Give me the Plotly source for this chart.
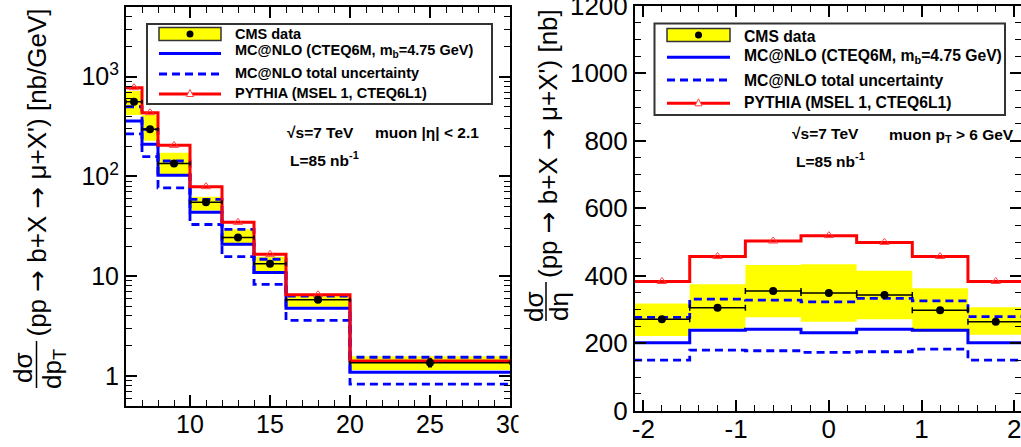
import math
import plotly.graph_objects as go

W, H = 1021, 447
FONT = "Liberation Sans, Arial, Helvetica, sans-serif"

# ---------------- left panel: d sigma / d pT ----------------
pt_edges = [6, 7, 8, 10, 12, 14, 16, 20, 30]
pt_x = [6.5, 7.5, 9, 11, 13, 15, 18, 25]
pt_xerr = [0.5, 0.5, 1, 1, 1, 1, 2, 5]
pt_data = [560, 297, 135, 55, 24.5, 13.3, 5.8, 1.36]
pt_stat = [12, 6, 3, 1.2, 0.7, 0.4, 0.25, 0.12]
pt_syst_hi = [720, 413, 173, 62.5, 29.5, 15.7, 6.5, 1.58]
pt_syst_lo = [413, 228, 106, 45.5, 20.3, 11.1, 4.95, 1.15]
pt_mcnlo = [360, 210, 103, 43.7, 20.9, 10.9, 4.77, 1.09]
pt_mcnlo_hi = [500, 297, 143, 59, 29.5, 14.8, 6.32, 1.54]
pt_mcnlo_lo = [267, 158, 77, 33, 15.7, 8.3, 3.61, 0.83]
pt_pythia = [776, 436, 205, 79, 34.7, 16.6, 6.53, 1.41]
pt_tickvals = [10, 15, 20, 25, 30]
pt_logticks = [1, 10, 100, 1000]
pt_logticktext = ["1", "10", "10<sup>2</sup>", "10<sup>3</sup>"]

# ---------------- right panel: d sigma / d eta ----------------
eta_edges = [-2.1, -1.5, -0.9, -0.3, 0.3, 0.9, 1.5, 2.1]
eta_x = [-1.8, -1.2, -0.6, 0.0, 0.6, 1.2, 1.8]
eta_xerr = [0.3] * 7
eta_data = [271, 305, 355, 349, 343, 298, 264]
eta_syst_hi = [318, 375, 432, 434, 415, 363, 307]
eta_syst_lo = [222, 244, 277, 264, 271, 234, 225]
eta_mcnlo = [202, 239, 242, 231, 242, 239, 202]
eta_mcnlo_hi = [277, 331, 328, 323, 333, 326, 279]
eta_mcnlo_lo = [150, 180, 178, 173, 175, 183, 150]
eta_pythia = [383, 457, 503, 519, 499, 457, 383]
eta_tickvals = [-2, -1, 0, 1, 2]
eta_ticktext = ["-2", "-1", "0", "1", "2"]

legend_labels = ["CMS data", "MC@NLO (CTEQ6M, m<sub>b</sub>=4.75 GeV)",
                 "MC@NLO total uncertainty", "PYTHIA (MSEL 1, CTEQ6L1)"]

YELLOW = "#ffff00"
BLUE = "#0000ff"
RED = "#ff0000"
ARROW = '<span style="font-family:DejaVu Sans">→</span>'


def px(x):
    return x / W


def py(y):
    return 1 - y / H


def band_xy(edges, lo, hi):
    xs, ys = [], []
    for i in range(len(lo)):
        x0, x1 = edges[i], edges[i + 1]
        xs += [x0, x1, x1, x0, x0, None]
        ys += [lo[i], lo[i], hi[i], hi[i], lo[i], None]
    return xs, ys


def step_y(vals):
    return list(vals) + [vals[-1]]


fig = go.Figure()


def add_panel(xa, ya, edges, xc, xerr, data, stat, shi, slo, mc, mchi, mclo, py_, capw):
    bx, by = band_xy(edges, slo, shi)
    fig.add_trace(go.Scatter(x=bx, y=by, mode="lines", fill="toself", fillcolor=YELLOW,
                             line=dict(width=0, color=YELLOW), xaxis=xa, yaxis=ya,
                             showlegend=False, hoverinfo="skip"))
    for vals in (mchi, mclo):
        fig.add_trace(go.Scatter(x=edges, y=step_y(vals), mode="lines", line_shape="hv",
                                 line=dict(color=BLUE, width=2.8, dash="8px,5px"),
                                 xaxis=xa, yaxis=ya, showlegend=False))
    fig.add_trace(go.Scatter(x=edges, y=step_y(mc), mode="lines", line_shape="hv",
                             line=dict(color=BLUE, width=3), xaxis=xa, yaxis=ya, showlegend=False))
    fig.add_trace(go.Scatter(x=edges, y=step_y(py_), mode="lines", line_shape="hv",
                             line=dict(color=RED, width=3), xaxis=xa, yaxis=ya, showlegend=False))
    fig.add_trace(go.Scatter(x=xc, y=py_, mode="markers",
                             marker=dict(symbol="triangle-up-open", size=8, color="#ff4040",
                                         line=dict(width=1, color="#ff4040")),
                             xaxis=xa, yaxis=ya, showlegend=False))
    fig.add_trace(go.Scatter(x=xc, y=data, mode="markers",
                             marker=dict(symbol="circle", size=8, color="black"),
                             error_x=dict(type="data", array=xerr, color="black", thickness=1.5, width=capw),
                             error_y=dict(type="data", array=stat, color="black", thickness=1.5, width=2),
                             xaxis=xa, yaxis=ya, showlegend=False))


add_panel("x", "y", pt_edges, pt_x, pt_xerr, pt_data, pt_stat, pt_syst_hi, pt_syst_lo,
          pt_mcnlo, pt_mcnlo_hi, pt_mcnlo_lo, pt_pythia, 2)
add_panel("x2", "y2", eta_edges, eta_x, eta_xerr, eta_data, [0] * 7, eta_syst_hi, eta_syst_lo,
          eta_mcnlo, eta_mcnlo_hi, eta_mcnlo_lo, eta_pythia, 3)

axis_common = dict(showgrid=False, zeroline=False, showline=True, linecolor="black", linewidth=2,
                   mirror="allticks", ticks="inside", ticklen=11, tickwidth=1.5, tickcolor="black",
                   ticklabeloverflow="allow", automargin=False)

log_minor = []
for dec in [0.1, 1, 10, 100, 1000]:
    for m in range(2, 10):
        v = m * dec
        if 0.5 <= v <= 5000:
            log_minor.append(v)

fig.update_layout(
    width=W, height=H, margin=dict(l=0, r=0, t=0, b=0, autoexpand=False),
    paper_bgcolor="white", plot_bgcolor="white",
    font=dict(family=FONT, color="black"),
    xaxis=dict(domain=[px(126), px(510)], anchor="y", range=[6, 30],
               tickmode="array", tickvals=pt_tickvals, ticklabelstandoff=-5,
               minor=dict(ticks="inside", ticklen=6, tickwidth=1.2, tickcolor="black", dtick=1, tick0=0),
               tickfont=dict(size=25, family=FONT), **axis_common),
    yaxis=dict(domain=[py(406), py(7)], anchor="x", type="log",
               range=[math.log10(0.5), math.log10(5000)],
               tickmode="array", tickvals=pt_logticks, ticktext=pt_logticktext,
               minor=dict(ticks="inside", ticklen=6, tickwidth=1.2, tickcolor="black",
                          tickmode="array", tickvals=log_minor),
               tickfont=dict(size=25, family=FONT), **axis_common),
    xaxis2=dict(domain=[px(635), 1.0], anchor="y2", range=[-2.09, 2.072],
                tickmode="array", tickvals=eta_tickvals, ticktext=eta_ticktext, ticklabelstandoff=-6,
                minor=dict(ticks="inside", ticklen=6, tickwidth=1.2, tickcolor="black", dtick=0.2, tick0=0),
                tickfont=dict(size=26, family=FONT), **axis_common),
    yaxis2=dict(domain=[py(410.8), py(5.8)], anchor="x2", range=[0, 1200],
                tickmode="linear", tick0=0, dtick=200,
                minor=dict(ticks="inside", ticklen=6, tickwidth=1.2, tickcolor="black", dtick=50, tick0=0),
                tickfont=dict(size=26, family=FONT), **axis_common),
)

annotations = []
shapes = []


def ann(text, x, y, size, bold=False, xanchor="left", yanchor="middle", angle=0):
    t = f"<b>{text}</b>" if bold else text
    annotations.append(dict(text=t, x=px(x), y=py(y), xref="paper", yref="paper",
                            xanchor=xanchor, yanchor=yanchor, textangle=angle, showarrow=False,
                            font=dict(family=FONT, size=size, color="black")))


# ---- axis titles (fraction built from pieces) ----
ann(f"(pp {ARROW} b+X {ARROW} μ+X') [nb/GeV]", 36.5, 173, 26, xanchor="center", angle=-90)
ann("dσ", 23, 368, 26, xanchor="center", angle=-90)
ann("dp<sub>T</sub>", 53, 369, 26, xanchor="center", angle=-90)
shapes.append(dict(type="line", xref="paper", yref="paper", x0=px(36.5), x1=px(36.5),
                   y0=py(341), y1=py(388), line=dict(color="black", width=1.5)))

ann(f"(pp {ARROW} b+X {ARROW} μ+X') [nb]", 548, 144, 26, xanchor="center", angle=-90)
ann("dσ", 534, 307, 26, xanchor="center", angle=-90)
ann("dη", 559, 307, 26, xanchor="center", angle=-90)
shapes.append(dict(type="line", xref="paper", yref="paper", x0=px(546), x1=px(546),
                   y0=py(282), y1=py(321), line=dict(color="black", width=1.5)))

# ---- in-plot texts ----
ann("√s=7 TeV", 285, 132, 15.5, bold=True)
ann("muon |η| < 2.1", 373, 132, 15.5, bold=True)
ann("L=85 nb<sup>-1</sup>", 288, 159, 15.5, bold=True)
ann("√s=7 TeV", 790, 133, 15.5, bold=True)
ann("muon p<sub>T</sub> > 6 GeV", 887, 135, 15.5, bold=True)
ann("L=85 nb<sup>-1</sup>", 794, 160, 15.5, bold=True)


# ---- legends ----
def legend(box, samp_x0, samp_x1, text_x, rows, fsize):
    bx0, by0, bx1, by1 = box
    shapes.append(dict(type="rect", xref="paper", yref="paper", x0=px(bx0), x1=px(bx1),
                       y0=py(by1), y1=py(by0), line=dict(color="#333333", width=2),
                       fillcolor="white", layer="above"))
    cx = (samp_x0 + samp_x1) / 2
    r0, r1, r2, r3 = rows
    shapes.append(dict(type="rect", xref="paper", yref="paper", x0=px(samp_x0), x1=px(samp_x1),
                       y0=py(r0[1] + 6.5), y1=py(r0[1] - 6.5), line=dict(color="#333333", width=1.5),
                       fillcolor=YELLOW, layer="above"))
    shapes.append(dict(type="circle", xref="paper", yref="paper", x0=px(cx - 3.5), x1=px(cx + 3.5),
                       y0=py(r0[1] + 3.5), y1=py(r0[1] - 3.5), line=dict(color="black", width=0),
                       fillcolor="black", layer="above"))
    shapes.append(dict(type="line", xref="paper", yref="paper", x0=px(samp_x0), x1=px(samp_x1),
                       y0=py(r1[1]), y1=py(r1[1]), line=dict(color=BLUE, width=3), layer="above"))
    shapes.append(dict(type="line", xref="paper", yref="paper", x0=px(samp_x0), x1=px(samp_x1),
                       y0=py(r2[1]), y1=py(r2[1]), line=dict(color=BLUE, width=3, dash="8px,5px"),
                       layer="above"))
    shapes.append(dict(type="line", xref="paper", yref="paper", x0=px(samp_x0), x1=px(samp_x1),
                       y0=py(r3[1]), y1=py(r3[1]), line=dict(color=RED, width=3), layer="above"))
    ty = r3[1]
    path = (f"M {px(cx - 3.5)} {py(ty + 2.5)} L {px(cx + 3.5)} {py(ty + 2.5)} "
            f"L {px(cx)} {py(ty - 4.5)} Z")
    shapes.append(dict(type="path", xref="paper", yref="paper", path=path,
                       line=dict(color="#ff4040", width=1), fillcolor="white", layer="above"))
    for lab, (ty_text, _) in zip(legend_labels, rows):
        ann(lab, text_x, ty_text, fsize, bold=True)


legend((147, 24, 492, 104), 159, 221, 232.5,
       [(33.5, 34), (51.5, 53.5), (72.7, 74), (92.5, 94)], 14.5)
legend((654.5, 23.5, 1005, 115), 667, 730, 741.5,
       [(36, 35), (56.5, 57.3), (80, 80), (102.5, 103.3)], 15.7)

# the left image is cropped just right of its "30" label
shapes.append(dict(type="rect", xref="paper", yref="paper", x0=px(518.5), x1=px(524),
                   y0=0, y1=py(408), line=dict(width=0), fillcolor="white", layer="above"))

fig.update_layout(annotations=annotations, shapes=shapes)
fig.write_html("out.html")
